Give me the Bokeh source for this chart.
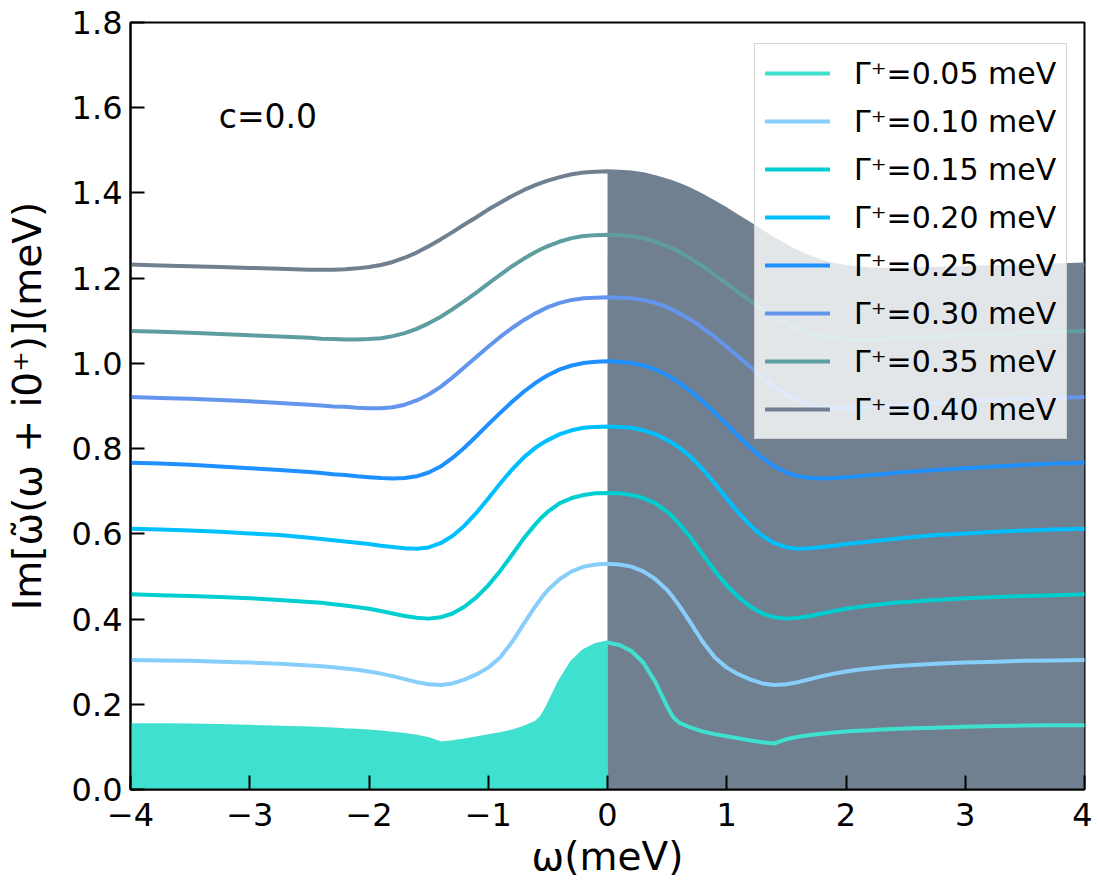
import numpy as np
from bokeh.plotting import figure
from bokeh.models import (Legend, LegendItem, Label, FixedTicker, PrintfTickFormatter,
                          CustomJSTickFormatter, Range1d)
from bokeh.embed import file_html
from bokeh.resources import INLINE

# ---------------- data ----------------
omega = [-4.0, -3.75, -3.5, -3.25, -3.0, -2.75, -2.5, -2.4, -2.3, -2.2, -2.1, -2.0, -1.9, -1.8, -1.7,
         -1.6, -1.5, -1.4, -1.3, -1.2, -1.1, -1.0, -0.9, -0.8, -0.7, -0.6, -0.55, -0.5, -0.4, -0.3,
         -0.2, -0.1, 0.0,
         0.1, 0.2, 0.3, 0.4, 0.5, 0.55, 0.6, 0.7, 0.8, 0.9, 1.0, 1.1, 1.2, 1.3, 1.4, 1.5, 1.6, 1.7,
         1.8, 1.9, 2.0, 2.1, 2.2, 2.3, 2.4, 2.5, 2.75, 3.0, 3.25, 3.5, 3.75, 4.0]

gamma_labels = ["Γ⁺=0.05 meV", "Γ⁺=0.10 meV", "Γ⁺=0.15 meV", "Γ⁺=0.20 meV",
                "Γ⁺=0.25 meV", "Γ⁺=0.30 meV", "Γ⁺=0.35 meV", "Γ⁺=0.40 meV"]
colors = ["#40E0D0", "#87CEFA", "#00CED1", "#00BFFF",
          "#1E90FF", "#6495ED", "#5F9EA0", "#708090"]

im_g005 = [0.151, 0.151, 0.150, 0.149, 0.147, 0.145, 0.143, 0.142, 0.141, 0.139, 0.138, 0.136, 0.134, 0.131, 0.128,
           0.124, 0.118, 0.108, 0.111, 0.115, 0.120, 0.125, 0.130, 0.136, 0.145, 0.157, 0.170, 0.195, 0.253, 0.298,
           0.325, 0.339, 0.345,
           0.339, 0.325, 0.298, 0.253, 0.195, 0.170, 0.157, 0.145, 0.136, 0.130, 0.125, 0.120, 0.115, 0.111, 0.108,
           0.118, 0.124, 0.128, 0.131, 0.134, 0.136, 0.138, 0.139, 0.141, 0.142, 0.143, 0.145, 0.147, 0.149, 0.150,
           0.151, 0.151]
im_g010 = [0.304, 0.303, 0.302, 0.300, 0.298, 0.295, 0.291, 0.289, 0.287, 0.284, 0.281, 0.277, 0.272, 0.266, 0.259,
           0.252, 0.247, 0.245, 0.249, 0.258, 0.270, 0.286, 0.310, 0.346, 0.390, 0.432, 0.451, 0.468, 0.494, 0.512,
           0.523, 0.528, 0.530,
           0.528, 0.523, 0.512, 0.494, 0.468, 0.451, 0.432, 0.390, 0.346, 0.310, 0.286, 0.270, 0.258, 0.249, 0.245,
           0.247, 0.252, 0.259, 0.266, 0.272, 0.277, 0.281, 0.284, 0.287, 0.289, 0.291, 0.295, 0.298, 0.300, 0.302,
           0.303, 0.304]
im_g015 = [0.458, 0.456, 0.454, 0.452, 0.449, 0.445, 0.440, 0.438, 0.435, 0.432, 0.428, 0.424, 0.419, 0.413, 0.407,
           0.403, 0.401, 0.404, 0.413, 0.429, 0.451, 0.479, 0.513, 0.551, 0.590, 0.624, 0.639, 0.652, 0.672, 0.684,
           0.691, 0.695, 0.696,
           0.695, 0.691, 0.684, 0.672, 0.652, 0.639, 0.624, 0.590, 0.551, 0.513, 0.479, 0.451, 0.429, 0.413, 0.404,
           0.401, 0.403, 0.407, 0.413, 0.419, 0.424, 0.428, 0.432, 0.435, 0.438, 0.440, 0.445, 0.449, 0.452, 0.454,
           0.456, 0.458]
im_g020 = [0.612, 0.610, 0.608, 0.605, 0.601, 0.597, 0.591, 0.588, 0.585, 0.582, 0.579, 0.576, 0.572, 0.569, 0.566,
           0.565, 0.568, 0.578, 0.595, 0.619, 0.649, 0.683, 0.718, 0.751, 0.780, 0.803, 0.812, 0.820, 0.834, 0.843,
           0.849, 0.851, 0.852,
           0.851, 0.849, 0.843, 0.834, 0.820, 0.812, 0.803, 0.780, 0.751, 0.718, 0.683, 0.649, 0.619, 0.595, 0.578,
           0.568, 0.565, 0.566, 0.569, 0.572, 0.576, 0.579, 0.582, 0.585, 0.588, 0.591, 0.597, 0.601, 0.605, 0.608,
           0.610, 0.612]
im_g025 = [0.767, 0.765, 0.762, 0.758, 0.754, 0.750, 0.745, 0.743, 0.740, 0.738, 0.735, 0.733, 0.731, 0.730, 0.731,
           0.735, 0.744, 0.758, 0.778, 0.802, 0.829, 0.857, 0.884, 0.910, 0.934, 0.955, 0.964, 0.972, 0.986, 0.995,
           1.001, 1.004, 1.005,
           1.004, 1.001, 0.995, 0.986, 0.972, 0.964, 0.955, 0.934, 0.910, 0.884, 0.857, 0.829, 0.802, 0.778, 0.758,
           0.744, 0.735, 0.731, 0.730, 0.731, 0.733, 0.735, 0.738, 0.740, 0.743, 0.745, 0.750, 0.754, 0.758, 0.762,
           0.765, 0.767]
im_g030 = [0.921, 0.919, 0.917, 0.914, 0.911, 0.907, 0.903, 0.901, 0.899, 0.898, 0.896, 0.895, 0.895, 0.897, 0.903,
           0.913, 0.927, 0.945, 0.967, 0.991, 1.015, 1.039, 1.062, 1.083, 1.102, 1.118, 1.125, 1.132, 1.142, 1.149,
           1.153, 1.154, 1.155,
           1.154, 1.153, 1.149, 1.142, 1.132, 1.125, 1.118, 1.102, 1.083, 1.062, 1.039, 1.015, 0.991, 0.967, 0.945,
           0.927, 0.913, 0.903, 0.897, 0.895, 0.895, 0.896, 0.898, 0.899, 0.901, 0.903, 0.907, 0.911, 0.914, 0.917,
           0.919, 0.921]
im_g035 = [1.076, 1.074, 1.072, 1.069, 1.066, 1.063, 1.060, 1.058, 1.057, 1.056, 1.056, 1.057, 1.059, 1.064, 1.071,
           1.081, 1.094, 1.109, 1.127, 1.146, 1.166, 1.187, 1.208, 1.228, 1.246, 1.262, 1.269, 1.275, 1.286, 1.294,
           1.299, 1.301, 1.302,
           1.301, 1.299, 1.294, 1.286, 1.275, 1.269, 1.262, 1.246, 1.228, 1.208, 1.187, 1.166, 1.146, 1.127, 1.109,
           1.094, 1.081, 1.071, 1.064, 1.059, 1.057, 1.056, 1.056, 1.057, 1.058, 1.060, 1.063, 1.066, 1.069, 1.072,
           1.074, 1.076]
im_g040 = [1.232, 1.230, 1.228, 1.226, 1.224, 1.222, 1.220, 1.220, 1.220, 1.221, 1.223, 1.226, 1.231, 1.238, 1.248,
           1.260, 1.275, 1.291, 1.308, 1.326, 1.343, 1.361, 1.377, 1.393, 1.407, 1.419, 1.424, 1.429, 1.437, 1.444,
           1.448, 1.450, 1.451,
           1.450, 1.448, 1.444, 1.437, 1.429, 1.424, 1.419, 1.407, 1.393, 1.377, 1.361, 1.343, 1.326, 1.308, 1.291,
           1.275, 1.260, 1.248, 1.238, 1.231, 1.226, 1.223, 1.221, 1.220, 1.220, 1.220, 1.222, 1.224, 1.226, 1.228,
           1.230, 1.232]

series = [im_g005, im_g010, im_g015, im_g020, im_g025, im_g030, im_g035, im_g040]

x_ticks = [-4, -3, -2, -1, 0, 1, 2, 3, 4]
y_ticks = [0.0, 0.2, 0.4, 0.6, 0.8, 1.0, 1.2, 1.4, 1.6, 1.8]

FONT = "DejaVu Sans"

# ---------------- figure ----------------
p = figure(width=1092, height=891, x_range=Range1d(-4, 4), y_range=Range1d(0, 1.8),
           output_backend="svg", toolbar_location=None,
           min_border_left=130, min_border_right=8, min_border_top=22, min_border_bottom=102)
p.xgrid.visible = False
p.ygrid.visible = False
p.background_fill_color = "white"
p.border_fill_color = "white"
p.outline_line_color = "black"
p.outline_line_width = 2

om = np.array(omega)
left = om <= 0
right = om >= 0

# fills (below the lines)
p.varea(x=om[left], y1=np.zeros(left.sum()), y2=np.array(im_g005)[left],
        fill_color=colors[0], fill_alpha=1.0)
p.varea(x=om[right], y1=np.zeros(right.sum()), y2=np.array(im_g040)[right],
        fill_color=colors[7], fill_alpha=1.0)

items = []
for ys, c, lab in zip(series, colors, gamma_labels):
    r = p.line(om, ys, line_color=c, line_width=4, line_join="round", line_cap="round")
    items.append(LegendItem(label=lab, renderers=[r]))

legend = Legend(items=items, location=(624, 350),
                label_text_font=FONT, label_text_font_size="30px", label_text_color="black",
                glyph_width=65, glyph_height=38, label_height=38,
                label_standoff=24, spacing=10, padding=10, margin=0,
                background_fill_color="white", background_fill_alpha=0.8,
                border_line_color="#cccccc", border_line_width=1.5, border_line_alpha=0.8)
p.add_layout(legend)

p.add_layout(Label(x=-3.26, y=1.58, text="c=0.0", text_font=FONT, text_font_size="33px",
                   text_baseline="alphabetic", text_color="black"))

# axes
for ax in (p.xaxis[0], p.yaxis[0]):
    ax.axis_line_width = 2
    ax.axis_line_color = "black"
    ax.major_tick_in = 14
    ax.major_tick_out = 0
    ax.major_tick_line_width = 2
    ax.major_tick_line_color = "black"
    ax.minor_tick_line_color = None
    ax.major_label_text_font = FONT
    ax.major_label_text_font_size = "32px"
    ax.major_label_text_color = "black"
    ax.axis_label_text_font = FONT
    ax.axis_label_text_font_size = "39px"
    ax.axis_label_text_font_style = "normal"
    ax.axis_label_text_color = "black"

p.xaxis.ticker = FixedTicker(ticks=x_ticks)
p.yaxis.ticker = FixedTicker(ticks=y_ticks)
p.xaxis.formatter = CustomJSTickFormatter(
    code="return tick < 0 ? '\\u2212' + Math.abs(tick) : tick.toString();")
p.yaxis.formatter = PrintfTickFormatter(format="%.1f")
p.xaxis.major_label_standoff = 13
p.yaxis.major_label_standoff = 8
p.xaxis.axis_label = "ω(meV)"
p.yaxis.axis_label = "Im[ω̃(ω + i0⁺)](meV)"
p.xaxis.axis_label_standoff = 5
p.yaxis.axis_label_standoff = 19

open("out.html", "w").write(file_html(p, INLINE))
